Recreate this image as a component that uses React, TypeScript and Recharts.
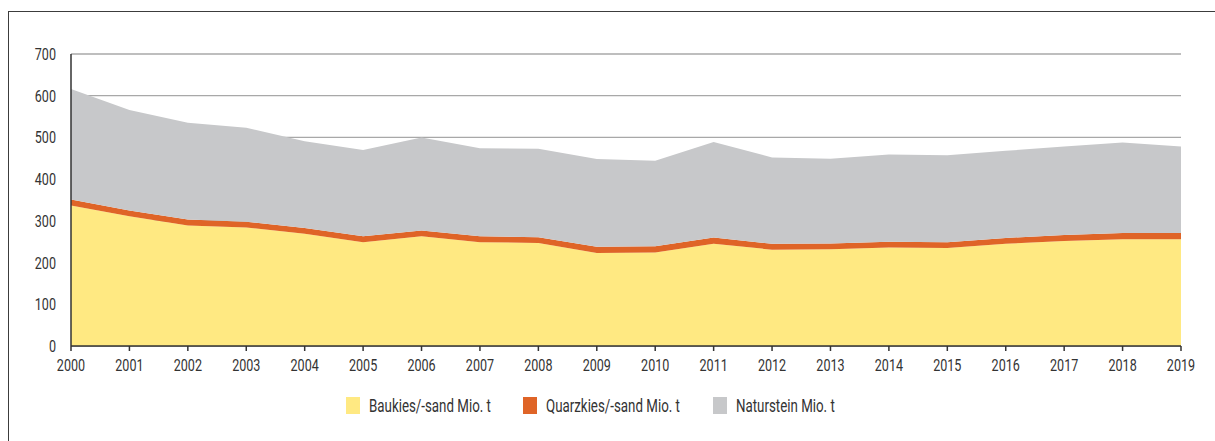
import { AreaChart, Area, XAxis, YAxis, CartesianGrid } from 'recharts';

// Mio. t
const years = ['2000', '2001', '2002', '2003', '2004', '2005', '2006', '2007', '2008', '2009',
  '2010', '2011', '2012', '2013', '2014', '2015', '2016', '2017', '2018', '2019'];
const baukies = [337, 311, 289, 284, 269, 249, 263, 249, 247, 223, 224, 245, 231, 232, 236, 235, 245, 252, 256, 256];
const quarzkies = [14, 14, 14, 14, 14, 14, 14, 14, 14, 15, 15, 15, 14, 14, 14, 14, 14, 14, 15, 15];
const naturstein = [265, 241, 232, 225, 208, 207, 223, 211, 212, 210, 205, 229, 207, 203, 209, 208, 209, 212, 217, 207];
const yTicks = [0, 100, 200, 300, 400, 500, 600, 700];

// condensed look: no narrow font installed, so squeeze Roboto horizontally
const FONT = 'Roboto, "Liberation Sans", sans-serif';
const SQUEEZE = 0.74;
const TEXT = '#333';

const series = [
  { key: 'baukies', name: 'Baukies/-sand Mio. t', color: '#FFE982' },
  { key: 'quarzkies', name: 'Quarzkies/-sand Mio. t', color: '#DF6427' },
  { key: 'naturstein', name: 'Naturstein Mio. t', color: '#C7C8CA' },
];

const data = years.map((year, i) => ({
  year,
  baukies: baukies[i],
  quarzkies: quarzkies[i],
  naturstein: naturstein[i],
}));

// legend item positions (left edge of the swatch)
const legendX = [346, 523, 713];

function XTick({ x, y, payload }: any) {
  return (
    <g transform={`translate(${x},${y}) scale(${SQUEEZE},1)`}>
      <text x={0} y={0} dy="0.71em" textAnchor="middle" fill={TEXT} fontSize={17} fontFamily={FONT}>
        {payload.value}
      </text>
    </g>
  );
}

function YTick({ x, y, payload }: any) {
  return (
    <g transform={`translate(${x},${y}) scale(${SQUEEZE},1)`}>
      <text x={0} y={0} dy="0.355em" textAnchor="end" fill={TEXT} fontSize={17} fontFamily={FONT}>
        {payload.value}
      </text>
    </g>
  );
}

export default function App() {
  return (
    <div style={{ position: 'relative', width: 1215, height: 441, fontFamily: FONT, background: '#fff' }}>
      <style>{`body{margin:0;overflow:hidden}`}</style>
      <div style={{
        position: 'absolute', left: 8, top: 11, width: 1207, height: 430,
        borderTop: '1px solid #3c3c3c', borderLeft: '1px solid #3c3c3c', boxSizing: 'border-box',
      }} />
      <div style={{ position: 'absolute', left: 0, top: 0 }}>
        <AreaChart width={1215} height={390} data={data} margin={{ top: 54, right: 34, left: 0, bottom: 14 }}>
          <CartesianGrid vertical={false} stroke="#a8a8a8" strokeWidth={1.3} />
          <XAxis
            dataKey="year"
            interval={0}
            height={30}
            stroke="#333"
            strokeWidth={1.5}
            tickSize={5}
            tickMargin={8}
            tick={<XTick />}
          />
          <YAxis
            width={71}
            domain={[0, 700]}
            ticks={yTicks}
            interval={0}
            stroke="#333"
            strokeWidth={1.5}
            tickLine={false}
            tickSize={0}
            tickMargin={15}
            tick={<YTick />}
          />
          {series.map(s => (
            <Area
              key={s.key}
              type="linear"
              dataKey={s.key}
              name={s.name}
              stackId="1"
              stroke="none"
              fill={s.color}
              fillOpacity={1}
              isAnimationActive={false}
            />
          ))}
        </AreaChart>
      </div>
      {series.map((s, i) => (
        <div key={s.key} style={{ position: 'absolute', left: legendX[i], top: 397, display: 'flex', alignItems: 'center' }}>
          <div style={{ width: 14, height: 17, background: s.color }} />
          <span style={{
            marginLeft: 9, fontSize: 18, color: TEXT, lineHeight: '17px', whiteSpace: 'nowrap',
            display: 'inline-block', transform: `scaleX(${SQUEEZE})`, transformOrigin: 'left center',
          }}>{s.name}</span>
        </div>
      ))}
    </div>
  );
}
